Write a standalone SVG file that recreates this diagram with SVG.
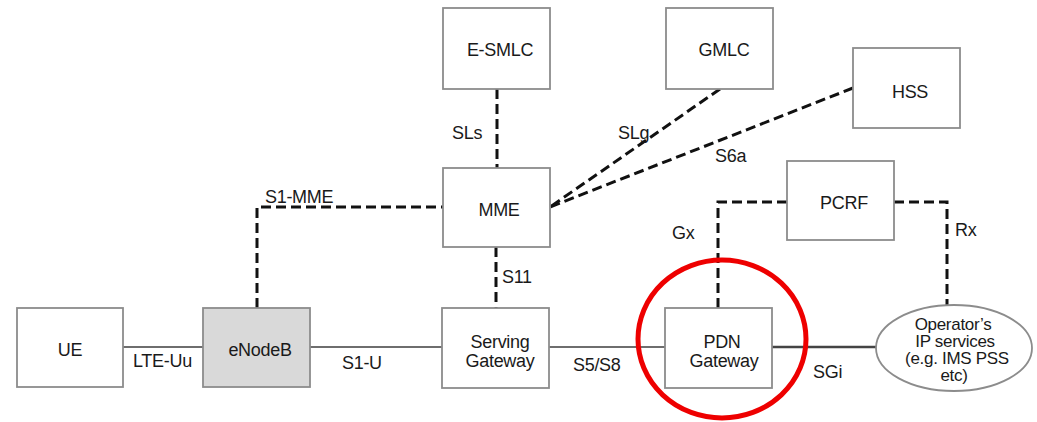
<svg xmlns="http://www.w3.org/2000/svg" width="1037" height="422" viewBox="0 0 1037 422">
<style>
.box{fill:#fff;stroke:#8c8c8c;stroke-width:1.8}
.t{font-family:"Liberation Sans",Arial,sans-serif;font-size:18px;fill:#1a1a1a;text-anchor:middle;letter-spacing:-0.3px}
.e{font-family:"Liberation Sans",Arial,sans-serif;font-size:17px;fill:#1a1a1a;text-anchor:middle;letter-spacing:-0.3px}
.lbl{font-family:"Liberation Sans",Arial,sans-serif;font-size:18px;fill:#1a1a1a;letter-spacing:-0.3px}
.solid{fill:none;stroke:#6e6e6e;stroke-width:2}
.dash{fill:none;stroke:#111;stroke-width:3;stroke-dasharray:10 5}
</style>
<rect width="1037" height="422" fill="#fff"/>
<g id="connectors">
<line class="solid" x1="123" y1="347" x2="203" y2="347"/>
<line class="solid" x1="310" y1="347" x2="442" y2="347"/>
<line class="solid" x1="549" y1="347" x2="665" y2="347"/>
<line class="solid" x1="772" y1="347" x2="876" y2="347" style="stroke:#444;stroke-width:2.5"/>
<polyline class="dash" points="257,308 257,207 443,207"/>
<line class="dash" x1="496" y1="247" x2="496" y2="308"/>
<line class="dash" x1="497" y1="89" x2="497" y2="168"/>
<line class="dash" x1="720" y1="89" x2="550" y2="207"/>
<line class="dash" x1="853" y1="88" x2="550" y2="207"/>
<polyline class="dash" points="718,308 718,202 787,202"/>
<polyline class="dash" points="894,202 947,202 947,306"/>
<text class="lbl" x="133" y="367">LTE-Uu</text>
<text class="lbl" x="342" y="369">S1-U</text>
<text class="lbl" x="573" y="371">S5/S8</text>
<text class="lbl" x="813" y="378">SGi</text>
<text class="lbl" x="265" y="203">S1-MME</text>
<text class="lbl" x="502" y="283">S11</text>
<text class="lbl" x="452" y="139">SLs</text>
<text class="lbl" x="618" y="139">SLg</text>
<text class="lbl" x="715" y="162">S6a</text>
<text class="lbl" x="672" y="239">Gx</text>
<text class="lbl" x="955" y="236">Rx</text>
</g>
<g id="UE"><rect class="box" x="17" y="308" width="106" height="79"/><text class="t" x="70" y="356">UE</text></g>
<g id="eNodeB"><rect class="box" x="203" y="308" width="107" height="79" style="fill:#d9d9d9"/><text class="t" x="260" y="356">eNodeB</text></g>
<g id="ServingGateway"><rect class="box" x="442" y="308" width="107" height="80"/><text class="t" x="500" y="348">Serving</text><text class="t" x="500" y="367">Gateway</text></g>
<g id="PDNGateway"><rect class="box" x="665" y="308" width="107" height="80"/><text class="t" x="722" y="348">PDN</text><text class="t" x="724" y="367">Gateway</text></g>
<g id="MME"><rect class="box" x="443" y="168" width="107" height="79"/><text class="t" x="499" y="216">MME</text></g>
<g id="ESMLC"><rect class="box" x="443" y="8" width="107" height="81"/><text class="t" x="500" y="56">E-SMLC</text></g>
<g id="GMLC"><rect class="box" x="666" y="8" width="107" height="81"/><text class="t" x="724" y="56">GMLC</text></g>
<g id="HSS"><rect class="box" x="853" y="48" width="107" height="80"/><text class="t" x="910" y="98">HSS</text></g>
<g id="PCRF"><rect class="box" x="787" y="161" width="107" height="79"/><text class="t" x="844" y="209">PCRF</text></g>
<g id="OperatorIP"><ellipse cx="954" cy="348" rx="78" ry="43" fill="#fff" stroke="#8c8c8c" stroke-width="1.8"/>
<text class="e" x="953" y="330">Operator’s</text><text class="e" x="955" y="347">IP services</text><text class="e" x="957" y="364">(e.g. IMS PSS</text><text class="e" x="954" y="381">etc)</text></g>
<g id="highlight"><ellipse cx="722" cy="339" rx="84" ry="79" fill="none" stroke="#ee0000" stroke-width="5"/></g>
</svg>
